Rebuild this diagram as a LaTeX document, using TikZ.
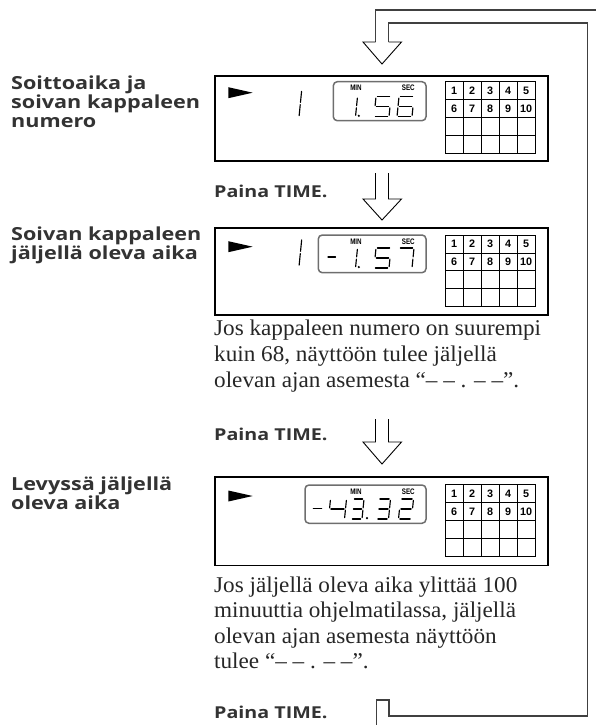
\documentclass[tikz,border=0pt]{standalone}
\usepackage{fontspec}
\setmainfont{Liberation Serif}
\newfontfamily\bodyfont[FakeStretch=1.03]{Liberation Serif}
\newfontfamily\lblfont[FakeStretch=1.2]{Open Sans}
\newfontfamily\gridfont{Liberation Sans}
\newfontfamily\condfont[FakeStretch=0.78]{Liberation Sans}
\definecolor{lblgray}{HTML}{333333}
\definecolor{txtgray}{HTML}{262626}
\definecolor{loopgray}{HTML}{404040}
\definecolor{wingray}{HTML}{6E6E6E}
\makeatletter
\newcommand\segdigit[5]{%
  \begin{scope}[shift={(#1,#2)},xslant=0.1]
    \in@{a}{#5}\ifin@\draw[segline] (1.4,-#4) -- (#3-1.4,-#4);\fi
    \in@{b}{#5}\ifin@\draw[segline] (#3,-#4+1.4) -- (#3,-#4/2-1.1);\fi
    \in@{c}{#5}\ifin@\draw[segline] (#3,-#4/2+1.1) -- (#3,-1.4);\fi
    \in@{d}{#5}\ifin@\draw[segline] (1.4,0) -- (#3-1.4,0);\fi
    \in@{e}{#5}\ifin@\draw[segline] (0,-#4/2+1.1) -- (0,-1.4);\fi
    \in@{f}{#5}\ifin@\draw[segline] (0,-#4+1.4) -- (0,-#4/2-1.1);\fi
    \in@{g}{#5}\ifin@\draw[segline] (1.4,-#4/2) -- (#3-1.4,-#4/2);\fi
  \end{scope}}
\makeatother
% display box: #1 top y, #2 bottom y, #3 window left x, #4 window top, #5 window bottom, #6 grid top, #7 triangle centre y, #8 name
\newcommand\displaybox[8]{%
  \node[dispbox, minimum width=333.3pt, minimum height=#2pt-#1pt] (#8) at (381.65,{(#1+#2)/2}) {};
  \fill (228.3,#7-5.5) -- (228.3,#7+5.5) -- (252.7,#7) -- cycle;
  \draw[winline] (#3,#4) rectangle (426,#5);
  \node[minsec] at (356,#4+6.5) {MIN};
  \node[minsec] at (408.3,#4+6.5) {SEC};
  \begin{scope}[shift={(445,#6)}]
    \draw[gridline] (0,0) rectangle (90,71.6);
    \foreach \i in {1,2,3,4} {\draw[gridline] (18*\i,0) -- (18*\i,71.6);}
    \foreach \j in {1,2,3} {\draw[gridline] (0,17.9*\j) -- (90,17.9*\j);}
    \foreach \n [count=\k from 0] in {1,2,3,4,5} {\node[gridnum] at (9+18*\k,9.2) {\n};}
    \foreach \n [count=\k from 0] in {6,7,8,9,10} {\node[gridnum] at (9+18*\k,27.1) {\n};}
  \end{scope}}
\newcommand\hollowarrow[3]{% #1 shaft top, #2 head base, #3 tip
  \draw[arrline] (375.5,#1) -- (375.5,#2) -- (363,#2) -- (382,#3) -- (401.5,#2) -- (388.5,#2) -- (388.5,#1);}
\tikzset{
  segline/.style={line width=1.15pt, line cap=round},
  dispbox/.style={draw, line width=1.9pt, inner sep=0pt},
  winline/.style={draw=wingray, line width=1.5pt, rounded corners=4pt},
  gridline/.style={line width=0.75pt},
  gridnum/.style={font=\gridfont\bfseries\fontsize{10.8}{12}\selectfont, inner sep=0pt},
  minsec/.style={font=\condfont\bfseries\fontsize{8}{9}\selectfont, inner sep=0pt},
  lbl/.style={font=\lblfont\bfseries\fontsize{18}{21}\selectfont, text=lblgray, inner sep=0pt, anchor=base west},
  paina/.style={font=\lblfont\bfseries\fontsize{16.4}{19}\selectfont, text=lblgray, inner sep=0pt, anchor=base west},
  body/.style={font=\bodyfont\fontsize{22.5}{26}\selectfont, text=txtgray, inner sep=0pt, anchor=base west},
  arrline/.style={line width=0.9pt, line join=miter},
  loopline/.style={draw=loopgray, line width=1.3pt, line join=miter}
}
\begin{document}
\begin{tikzpicture}[x=1pt,y=-1pt]
\useasboundingbox (0,0) rectangle (595,725);
% loop arrow
\draw[loopline] (596,10) -- (375.5,10) -- (375.5,42);
\draw[arrline] (375.5,42) -- (363,42) -- (382,64) -- (401.5,42) -- (388.5,42);
\draw[loopline] (388.5,42) -- (388.5,23) -- (587.7,23) -- (587.7,716) -- (389,716) -- (389,700) -- (376.7,700) -- (376.7,726);
% arrows
\hollowarrow{173}{199}{220}
\hollowarrow{419}{442}{464}
% displays
\displaybox{76}{160.7}{333.3}{81.7}{120.7}{81.7}{92.7}{disp1}
\displaybox{228.3}{315}{318.3}{235}{272.7}{235}{246.7}{disp2}
\displaybox{477.3}{565.5}{305}{485}{523.3}{484.3}{496}{disp3}
% display 1 digits
\segdigit{299}{117}{0}{27}{bc}
\segdigit{355.5}{116.7}{0}{20}{bc}
\fill (358.8,115.8) circle (1.2);
\segdigit{374}{116.7}{15}{20}{afgcd}
\segdigit{397}{116.7}{15}{20}{afedcg}
% display 2 digits
\segdigit{299}{266.5}{0}{28}{bc}
\draw[segline] (328,257) -- (335.5,257);
\segdigit{355.5}{268}{0}{20}{bc}
\fill (358.8,267.1) circle (1.2);
\segdigit{374}{268}{15}{20}{afgcd}
\segdigit{397}{268}{15}{20}{abc}
% display 3 digits
\draw[segline] (313.3,508.5) -- (321.7,508.5);
\segdigit{328.5}{519}{16}{20}{fgbc}
\segdigit{351}{519}{11}{20}{abgcd}
\fill (367,518.1) circle (1.2);
\segdigit{376.5}{519}{12}{20}{abgcd}
\segdigit{398.5}{519}{13}{20}{abged}
% left labels
\node[lbl] (l1a) at (11,89.3) {Soittoaika ja};
\node[lbl] (l1b) at (11,108.5) {soivan kappaleen};
\node[lbl] (l1c) at (11,127.5) {numero};
\node[lbl] (l2a) at (11,240) {Soivan kappaleen};
\node[lbl] (l2b) at (11,259.3) {jäljellä oleva aika};
\node[lbl] (l3a) at (11,490) {Levyssä jäljellä};
\node[lbl] (l3b) at (11,509.3) {oleva aika};
% Paina TIME
\node[paina] (p1) at (214,197.3) {Paina TIME.};
\node[paina] (p2) at (214,440) {Paina TIME.};
\node[paina] (p3) at (214,718) {Paina TIME.};
% body texts
\node[body] (t1a) at (214,335.5) {Jos kappaleen numero on suurempi};
\node[body] (t1b) at (214,361.5) {kuin 68, näyttöön tulee jäljellä};
\node[body] (t1c) at (214,387.5) {olevan ajan asemesta “– – . – –”.};
\node[body] (t2a) at (214,592) {Jos jäljellä oleva aika ylittää 100};
\node[body] (t2b) at (214,617.5) {minuuttia ohjelmatilassa, jäljellä};
\node[body] (t2c) at (214,643) {olevan ajan asemesta näyttöön};
\node[body] (t2d) at (214,668.5) {tulee “– – . – –”.};
\end{tikzpicture}
\end{document}
